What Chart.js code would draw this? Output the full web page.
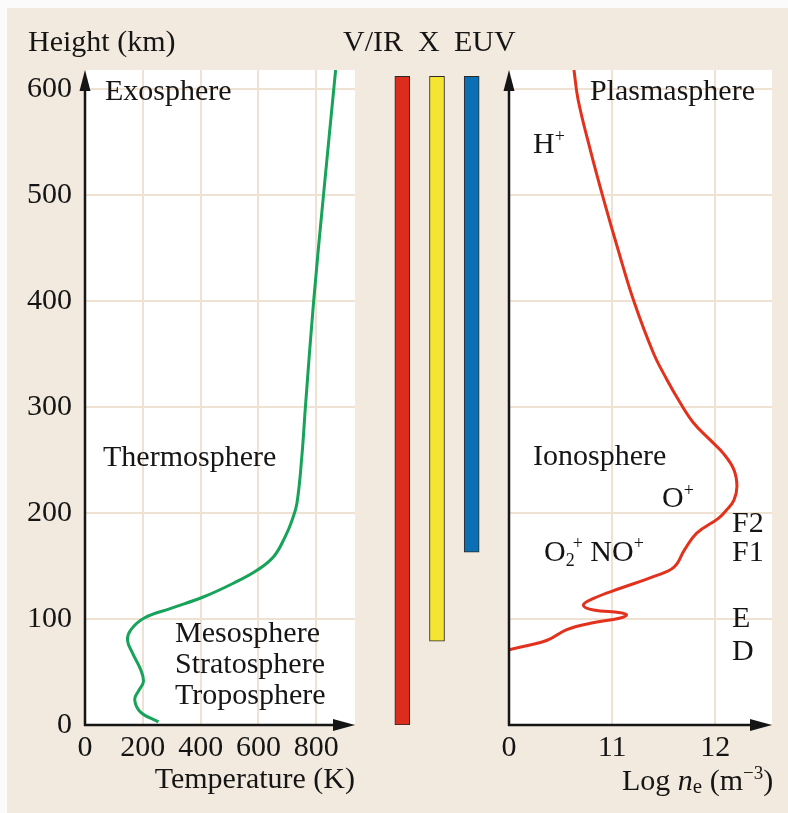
<!DOCTYPE html>
<html>
<head>
<meta charset="utf-8">
<script src="https://cdn.jsdelivr.net/npm/chart.js@4.4.1/dist/chart.umd.min.js"></script>
<style>
  html, body { margin: 0; padding: 0; background: #fbfbfb; }
  #page { position: relative; width: 788px; height: 813px; overflow: hidden; }
  #paper { position: absolute; left: 7px; top: 8px; right: 0; bottom: 0; background: #f2eadf; }
  canvas { position: absolute; left: 0; top: 0; }
</style>
</head>
<body>
<div id="page">
  <div id="paper"></div>
  <canvas id="temp" width="788" height="813"></canvas>
  <canvas id="bands" width="788" height="813"></canvas>
  <canvas id="dens" width="788" height="813"></canvas>
</div>
<script>
// Height scale shared by all three panels (km)
var heightTicks = [0, 100, 200, 300, 400, 500, 600];
var heightMax = 618;

// Neutral atmosphere temperature profile
var tempHeight = [3, 12, 24, 33, 41, 52, 68, 80, 90, 101, 110, 121, 134, 146, 159, 178, 193, 209, 253, 302, 400, 500, 618];
var tempK      = [254, 193, 172, 187, 202, 193, 164, 147, 159, 205, 297, 411, 515, 595, 653, 693, 716, 733, 750, 763, 791, 825, 867];
var tempTicks  = [0, 200, 400, 600, 800];
var tempMax = 934;

// Solar radiation bands: absorbed down to these heights
var bandNames  = ['V/IR', 'X', 'EUV'];
var bandBottom = [0, 79, 163];
var bandTop    = [612, 612, 612];
var bandColors = ['#dc2c1c', '#f6e432', '#0a6fb3'];

// Electron density profile, log10 n_e (m^-3)
var neHeight = [71, 80, 90, 96, 101, 104, 106, 108.5, 113, 119.5, 129, 140, 149, 165, 181, 195, 203, 212, 225, 241, 256, 269, 285, 304, 326, 351, 400, 451, 495, 542, 590, 618];
var neLog    = [10.0, 10.37, 10.56, 10.79, 11.08, 11.14, 11.08, 10.82, 10.72, 10.82, 11.08, 11.40, 11.60, 11.70, 11.82, 12.03, 12.11, 12.18, 12.21, 12.18, 12.08, 11.95, 11.79, 11.66, 11.53, 11.40, 11.21, 11.05, 10.92, 10.79, 10.67, 10.63];
var neTicks      = [10, 11, 12];
var neTickLabels = ['0', '11', '12'];
var neMin = 10, neMax = 12.55;

var SERIF = '"Liberation Serif", "Times New Roman", serif';
var gridColor = '#efe2d2';
var ink = '#151515';

Chart.defaults.font.family = SERIF;
Chart.defaults.font.size = 30;
Chart.defaults.color = ink;

// text with italic / sub / sup pieces
var drawRich = function(ctx, x, y, parts) {
    parts.forEach(function(p) {
        if (typeof p === 'string') p = { t: p };
        var size = p.size || 30;
        ctx.font = (p.it ? 'italic ' : '') + size + 'px ' + SERIF;
        var dy = p.sup ? -p.sup : (p.sub ? p.sub : 0);
        ctx.fillText(p.t, x, y + dy);
        x += ctx.measureText(p.t).width + (p.after || 0);
    });
};

var drawAxes = function(ctx, a) {
    ctx.strokeStyle = ink;
    ctx.fillStyle = ink;
    ctx.lineWidth = 2.5;
    ctx.beginPath();
    ctx.moveTo(a.left, a.bottom + 1);
    ctx.lineTo(a.left, a.top + 12);
    ctx.moveTo(a.left - 1, a.bottom);
    ctx.lineTo(a.right - 12, a.bottom);
    ctx.stroke();
    ctx.beginPath();
    ctx.moveTo(a.left, a.top);
    ctx.lineTo(a.left - 5.5, a.top + 21);
    ctx.lineTo(a.left + 5.5, a.top + 21);
    ctx.closePath();
    ctx.fill();
    ctx.beginPath();
    ctx.moveTo(a.right, a.bottom);
    ctx.lineTo(a.right - 22, a.bottom - 6);
    ctx.lineTo(a.right - 22, a.bottom + 6);
    ctx.closePath();
    ctx.fill();
};

var makeDecor = function(panel, texts) {
    return {
        id: 'decor',
        beforeDraw: function(chart) {
            if (!panel) return;
            var a = chart.chartArea, ctx = chart.ctx;
            ctx.save();
            ctx.fillStyle = '#ffffff';
            ctx.fillRect(a.left, a.top, a.right - a.left, a.bottom - a.top);
            ctx.restore();
        },
        afterDraw: function(chart) {
            var ctx = chart.ctx;
            ctx.save();
            if (panel) drawAxes(ctx, chart.chartArea);
            ctx.fillStyle = ink;
            ctx.textAlign = 'left';
            ctx.textBaseline = 'alphabetic';
            texts.forEach(function(t) { drawRich(ctx, t[0], t[1], t[2]); });
            ctx.restore();
        }
    };
};

var fixedTicks = function(list) {
    return function(scale) {
        scale.ticks = list.map(function(v) { return { value: v }; });
    };
};

var baseOptions = function(padding) {
    return {
        responsive: false,
        animation: false,
        devicePixelRatio: 1,
        layout: { padding: padding },
        plugins: { legend: { display: false }, tooltip: { enabled: false } }
    };
};

// Left: temperature
var leftTexts = [
    [28, 51, ['Height (km)']],
    [105, 100, ['Exosphere']],
    [103, 466, ['Thermosphere']],
    [175, 642, ['Mesosphere']],
    [175, 673, ['Stratosphere']],
    [175, 704, ['Troposphere']]
];
var tempOpts = baseOptions({ left: 25, right: 433, top: 70, bottom: 13 });
tempOpts.scales = {
    x: {
        type: 'linear', min: 0, max: tempMax,
        afterFit: function(s) { s.height = 75; },
        afterBuildTicks: fixedTicks(tempTicks),
        grid: { color: gridColor, lineWidth: 2, drawTicks: false },
        border: { display: false },
        ticks: { padding: 5, maxRotation: 0, autoSkip: false },
        title: { display: true, text: 'Temperature (K)', align: 'end', padding: { top: 0, bottom: 2 } }
    },
    y: {
        type: 'linear', min: 0, max: heightMax,
        afterFit: function(s) { s.width = 60; },
        afterBuildTicks: fixedTicks(heightTicks),
        grid: { color: gridColor, lineWidth: 2, drawTicks: false },
        border: { display: false },
        ticks: { padding: 13, autoSkip: false }
    }
};
new Chart(document.getElementById('temp'), {
    type: 'scatter',
    data: {
        datasets: [{
            data: tempK.map(function(t, i) { return { x: t, y: tempHeight[i] }; }),
            showLine: true,
            borderColor: '#17a35a',
            borderWidth: 3,
            pointRadius: 0,
            tension: 0.4
        }]
    },
    options: tempOpts,
    plugins: [makeDecor(true, leftTexts)]
});

// Middle: radiation bands
var midTexts = [
    [343, 51, ['V/IR']],
    [418, 51, ['X']],
    [454, 51, ['EUV']]
];
var bandOpts = baseOptions({ left: 385, right: 299, top: 70, bottom: 88 });
bandOpts.scales = {
    x: { display: false },
    y: { display: false, min: 0, max: heightMax }
};
new Chart(document.getElementById('bands'), {
    type: 'bar',
    data: {
        labels: bandNames,
        datasets: [{
            data: bandBottom.map(function(b, i) { return [b, bandTop[i]]; }),
            backgroundColor: bandColors,
            borderColor: '#2a2a2a',
            borderWidth: 1,
            borderSkipped: false,
            barThickness: 15
        }]
    },
    options: bandOpts,
    plugins: [makeDecor(false, midTexts)]
});

// Right: electron density
var rightTexts = [
    [590, 100, ['Plasmasphere']],
    [533, 153, ['H', { t: '+', size: 18, sup: 11 }]],
    [533, 465, ['Ionosphere']],
    [662, 507, ['O', { t: '+', size: 18, sup: 11 }]],
    [732, 532, ['F2']],
    [732, 561, ['F1']],
    [544, 561, ['O', { t: '2', size: 18, sub: 5, after: -2 }, { t: '+', size: 18, sup: 12 }, ' NO', { t: '+', size: 18, sup: 12 }]],
    [732, 627, ['E']],
    [732, 660, ['D']],
    [622, 790, ['Log ', { t: 'n', it: true }, { t: 'e', size: 21, sub: 3 }, ' (m', { t: '\u22123', size: 19, sup: 11 }, ')']]
];
var neOpts = baseOptions({ left: 509, right: 16, top: 70, bottom: 13 });
neOpts.scales = {
    x: {
        type: 'linear', min: neMin, max: neMax,
        afterFit: function(s) { s.height = 75; },
        afterBuildTicks: fixedTicks(neTicks),
        grid: { color: gridColor, lineWidth: 2, drawTicks: false },
        border: { display: false },
        ticks: {
            padding: 5, maxRotation: 0, autoSkip: false,
            callback: function(v) {
                var i = neTicks.indexOf(v);
                return i < 0 ? '' : neTickLabels[i];
            }
        }
    },
    y: {
        type: 'linear', min: 0, max: heightMax,
        afterFit: function(s) { s.width = 0; },
        afterBuildTicks: fixedTicks(heightTicks),
        grid: { color: gridColor, lineWidth: 2, drawTicks: false },
        border: { display: false },
        ticks: { display: false }
    }
};
new Chart(document.getElementById('dens'), {
    type: 'scatter',
    data: {
        datasets: [{
            data: neLog.map(function(v, i) { return { x: v, y: neHeight[i] }; }),
            showLine: true,
            borderColor: '#e2311d',
            borderWidth: 3,
            pointRadius: 0,
            tension: 0.4
        }]
    },
    options: neOpts,
    plugins: [makeDecor(true, rightTexts)]
});
</script>
</body>
</html>
